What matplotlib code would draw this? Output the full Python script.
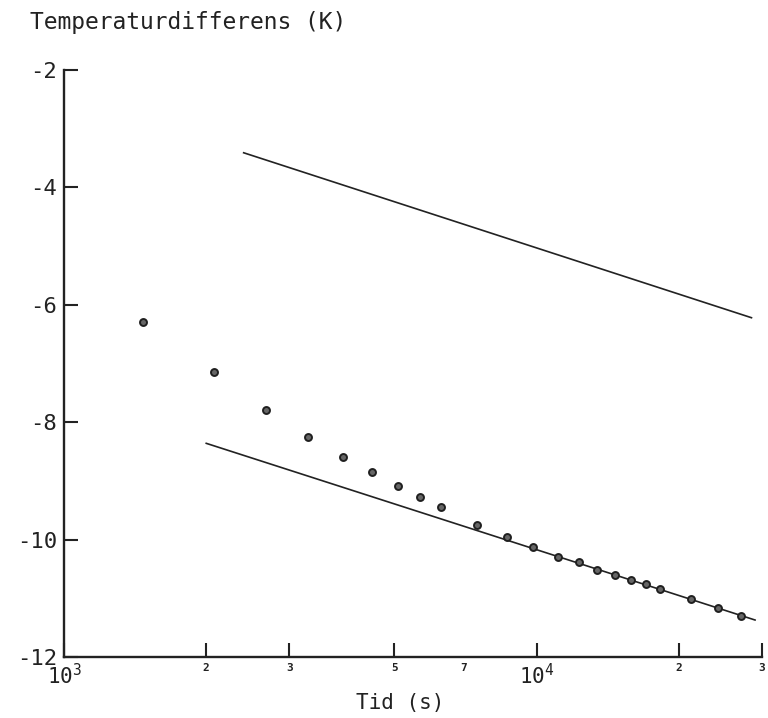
import numpy as np
import matplotlib.pyplot as plt

# measured points
tid = [1470, 2080, 2680, 3290, 3900, 4490, 5100, 5680, 6270, 7470, 8650,
       9850, 11080, 12290, 13440, 14640, 15820, 17060, 18240, 21250, 24260, 27100]
temp = [-6.30, -7.15, -7.80, -8.25, -8.60, -8.84, -9.08, -9.27, -9.44, -9.75, -9.96,
        -10.12, -10.29, -10.39, -10.51, -10.61, -10.68, -10.76, -10.84, -11.02, -11.16, -11.31]

# straight lines (log time)
lower_tid = [2000, 29000]
lower_temp = [-8.36, -11.37]
upper_tid = [2400, 28500]
upper_temp = [-3.41, -6.22]

xticks = [1000, 2000, 3000, 5000, 10000, 20000, 30000]
xticklabels = [r'$\mathregular{10^3}$', '2', '3', '5', r'$\mathregular{10^4}$', '2', '3']
yticks = [-12, -10, -8, -6, -4, -2]

plt.rcParams['font.family'] = 'DejaVu Sans Mono'
plt.rcParams['mathtext.fontset'] = 'custom'
plt.rcParams['mathtext.rm'] = 'DejaVu Sans Mono'
plt.rcParams['axes.unicode_minus'] = False

fig = plt.figure(figsize=(7.68, 7.18), dpi=100)
ax = fig.add_axes([64 / 768, 1 - 657 / 718, (762 - 64) / 768, (657 - 70) / 718])

ax.plot(upper_tid, upper_temp, color='#222222', lw=1.2)
ax.plot(lower_tid, lower_temp, color='#222222', lw=1.2)
ax.plot(tid, temp, 'o', ms=5, mfc='0.4', mec='0.12', mew=1.4)

ax.set_xscale('log')
ax.set_xlim(1000, 30000)
ax.set_ylim(-12, -2)

ax.set_xticks(xticks)
ax.set_xticklabels(xticklabels)
ax.set_xticks([7000], minor=True)
ax.set_xticklabels(['7'], minor=True)
ax.set_yticks(yticks)
ax.set_yticklabels([str(v) for v in yticks])

for lbl in ax.get_xticklabels():
    if lbl.get_text().startswith('$'):
        lbl.set_fontsize(15)
    else:
        lbl.set_fontsize(8)
        lbl.set_fontweight('bold')
for lbl in ax.get_xticklabels(minor=True):
    lbl.set_fontsize(8)
    lbl.set_fontweight('bold')

ax.tick_params(axis='x', which='major', direction='in', length=10, width=1.5, pad=4, colors='#222222')
ax.tick_params(axis='x', which='minor', length=0, pad=4, colors='#222222')
ax.tick_params(axis='y', direction='in', length=10, width=1.5, pad=5, labelsize=16, colors='#222222')

for s in ['top', 'right']:
    ax.spines[s].set_visible(False)
for s in ['left', 'bottom']:
    ax.spines[s].set_linewidth(1.7)
    ax.spines[s].set_color('#222222')

fig.text(30 / 768, 1 - 23 / 718, 'Temperaturdifferens (K)', fontsize=16.5,
         ha='left', va='center', color='#222222')
fig.text(400 / 768, 1 - 703 / 718, 'Tid (s)', fontsize=15,
         ha='center', va='center', color='#222222')

plt.savefig('out.png', dpi=100)
